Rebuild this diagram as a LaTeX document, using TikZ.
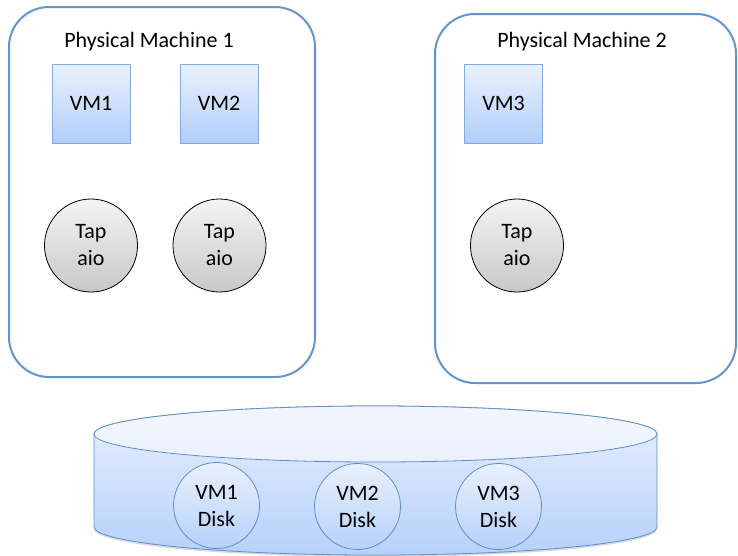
\documentclass[tikz,border=0pt]{standalone}
\usepackage{fontspec}
\setmainfont{Carlito}
\usetikzlibrary{positioning,shadows}
\definecolor{pmblue}{RGB}{100,148,204}
\definecolor{vmedge}{RGB}{132,170,222}
\definecolor{vmtop}{RGB}{234,241,253}
\definecolor{vmbot}{RGB}{178,206,250}
\definecolor{taptop}{RGB}{244,244,244}
\definecolor{tapbot}{RGB}{200,200,200}
\definecolor{disktop}{RGB}{233,240,253}
\definecolor{diskbot}{RGB}{182,209,250}
\definecolor{diskedge}{RGB}{96,143,200}
\tikzset{
    x = 1pt,
    y = 1pt,
    every node/.style = {
        inner sep = 0pt,
        outer sep = 0pt,
        font = \fontsize{22}{27}\selectfont
    },
    machine/.style = {
        draw = pmblue,
        line width = 2pt,
        rounded corners = 40pt
    },
    vmbox/.style = {
        draw = vmedge,
        line width = 0.8pt,
        top color = vmtop,
        bottom color = vmbot,
        minimum width = 78pt,
        minimum height = 79pt,
        drop shadow = {opacity=0.25, shadow xshift=0.8pt, shadow yshift=-1.2pt}
    },
    tapaio/.style = {
        circle,
        draw = black,
        line width = 0.8pt,
        top color = taptop,
        bottom color = tapbot,
        minimum size = 93pt,
        align = center
    },
    vmdisk/.style = {
        circle,
        draw = diskedge,
        line width = 0.8pt,
        top color = disktop,
        bottom color = diskbot,
        minimum size = 86pt,
        align = center
    }
}
\begin{document}
\begin{tikzpicture}
    \useasboundingbox (0,0) rectangle (738,-555);
    % physical machines
    \node[machine, minimum width=306pt, minimum height=370pt] (pm1) at (162,-192) {};
    \node[machine, minimum width=301pt, minimum height=369pt] (pm2) at (585.5,-198.5) {};
    \node (pm1label) at (149,-42) {Physical Machine 1};
    \node (pm2label) at (582,-42) {Physical Machine 2};
    % virtual machines
    \node[vmbox] (vm1) at (91,-103.5) {VM1};
    \node[vmbox] (vm2) at (219,-103.5) {VM2};
    \node[vmbox] (vm3) at (503.5,-103.5) {VM3};
    \node[tapaio] (tap1) at (91,-245.5) {Tap\\aio};
    \node[tapaio] (tap2) at (219.5,-245.5) {Tap\\aio};
    \node[tapaio] (tap3) at (517,-245.5) {Tap\\aio};
    % shared storage
    \path[draw=diskedge, line width=0.8pt, top color=disktop, bottom color=diskbot,
        drop shadow={opacity=0.3, shadow xshift=0pt, shadow yshift=-2pt}]
        (94,-434) -- (94,-527)
        arc[start angle=180, end angle=360, x radius=281.5, y radius=28]
        -- (657,-434)
        arc[start angle=0, end angle=180, x radius=281.5, y radius=28] -- cycle;
    \path[draw=diskedge, line width=0.8pt, top color=vmtop!60!white, bottom color=vmtop]
        (375.5,-434) ellipse[x radius=281.5, y radius=28];
    \node[vmdisk] (disk1) at (216.5,-505.5) {VM1\\Disk};
    \node[vmdisk] (disk2) at (357.5,-506.5) {VM2\\Disk};
    \node[vmdisk] (disk3) at (498.5,-506.5) {VM3\\Disk};
\end{tikzpicture}
\end{document}
